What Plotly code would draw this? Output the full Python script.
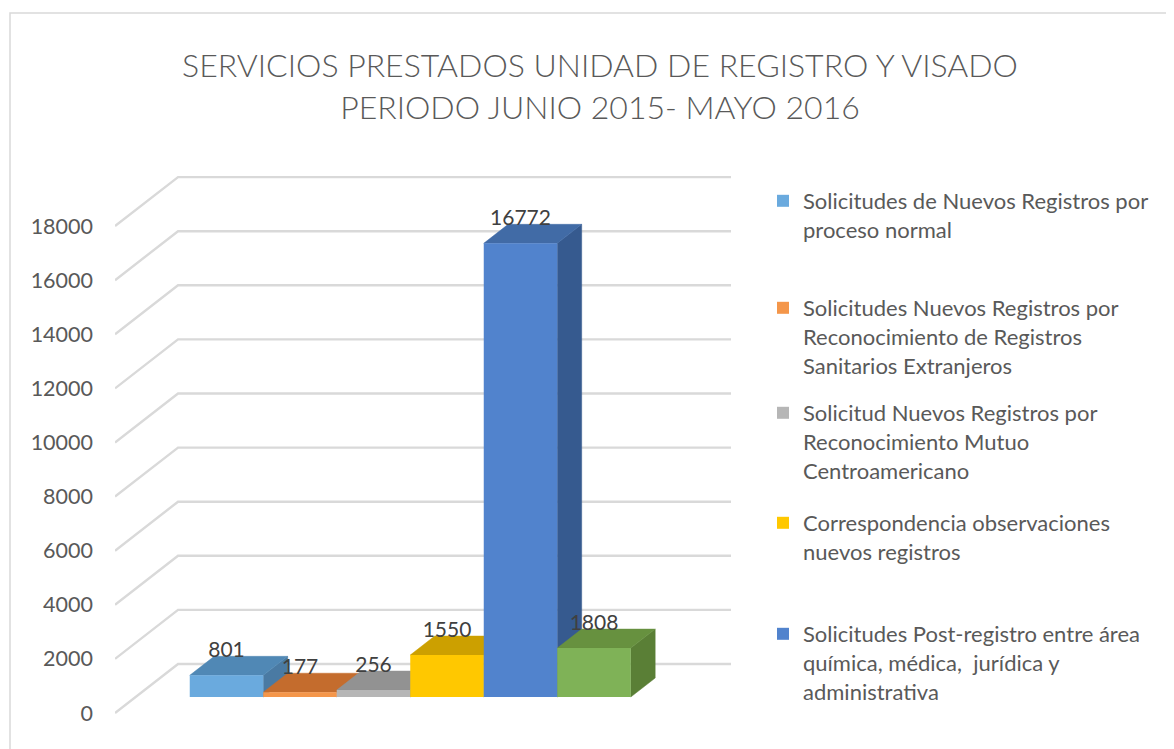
import plotly.graph_objects as go

# ---------------- data ----------------
categories = [
    "Solicitudes de Nuevos Registros por proceso normal",
    "Solicitudes Nuevos Registros por Reconocimiento de Registros Sanitarios Extranjeros",
    "Solicitud Nuevos Registros por Reconocimiento Mutuo Centroamericano",
    "Correspondencia observaciones nuevos registros",
    "Solicitudes Post-registro entre área química, médica,  jurídica y administrativa",
    "Otros servicios",
]
legend_labels = [
    "Solicitudes de Nuevos Registros por<br>proceso normal",
    "Solicitudes Nuevos Registros por<br>Reconocimiento de Registros<br>Sanitarios Extranjeros",
    "Solicitud Nuevos Registros por<br>Reconocimiento Mutuo<br>Centroamericano",
    "Correspondencia observaciones<br>nuevos registros",
    "Solicitudes Post-registro entre área<br>química, médica,  jurídica y<br>administrativa",
]
values = [801, 177, 256, 1550, 16772, 1808]
y_ticks = [0, 2000, 4000, 6000, 8000, 10000, 12000, 14000, 16000, 18000]
tick_text = [str(t) for t in y_ticks]

# ---------------- styles ----------------
front_colors = ["#6AAADE", "#F4964A", "#B6B6B6", "#FFC800", "#5183CD", "#7FB257"]
top_colors = ["#5088B5", "#C46C2D", "#929292", "#CCA000", "#416BA6", "#67913F"]
side_colors = ["#4A7AA3", "#A85C25", "#7E7E7E", "#B08A00", "#365A8F", "#5A7F36"]

FONT = "Lato"
TEXT_COLOR = "#595959"
GRID_COLOR = "#D9D9D9"

# ---------------- geometry (screen pixels) ----------------
W, H = 1174, 749
OFF = 8                                       # page body margin
FIG_W, FIG_H = W - OFF, H - OFF
PL, PR, PT, PB = 115, 735, 150, 735          # plot area (screen px)
X0_PX = 226.5                                 # centre of first category
BAR_PX = 73.5                                 # width of one category
Y0_PX = 697                                   # baseline of bar plane
PX_PER_UNIT = 0.02705                         # vertical scale
SLANT = 1.286                                 # horizontal px per vertical px of depth
BAR_DEPTH = 19                                # bar depth (px upward)
WALL_DEPTH = 33                               # bar plane -> back wall
FRONT_DEPTH = 16                              # bar plane -> front floor edge
FLOOR_LEFT_PX = 135.6                         # left floor edge at bar plane
WALL_RIGHT_PX = 731
LABEL_DROP = 6                                # data labels sit slightly low
LEGEND_LEFT_PX = 763
LEGEND_TOPS_PX = [180, 287, 392, 502, 613]    # top of each legend entry
LEGEND_FONT = 22


def to_x(px):
    return (px - X0_PX) / BAR_PX


def dx(depth):
    return depth * SLANT / BAR_PX


def dv(depth):
    return depth / PX_PER_UNIT


x_range = [to_x(PL), to_x(PR)]
y_range = [(Y0_PX - PB) / PX_PER_UNIT, (Y0_PX - PT) / PX_PER_UNIT]

fig = go.Figure()

# gridlines: oblique floor line + back wall line for every tick
xl = to_x(FLOOR_LEFT_PX)
for t in y_ticks:
    gx = [xl - dx(FRONT_DEPTH), xl + dx(WALL_DEPTH), to_x(WALL_RIGHT_PX)]
    gy = [t - dv(FRONT_DEPTH), t + dv(WALL_DEPTH), t + dv(WALL_DEPTH)]
    fig.add_trace(go.Scatter(x=gx, y=gy, mode="lines",
                             line=dict(color=GRID_COLOR, width=2.4),
                             hoverinfo="skip", showlegend=False))

# 3D side and top faces (drawn below fronts, left to right)
bdx, bdv = dx(BAR_DEPTH), dv(BAR_DEPTH)
for i, v in enumerate(values):
    xr = i + 0.5
    xlb = i - 0.5
    sx = [xr, xr, xr + bdx, xr + bdx, xr]
    sy = [0, v, v + bdv, bdv, 0]
    fig.add_trace(go.Scatter(x=sx, y=sy, fill="toself", mode="lines",
                             fillcolor=side_colors[i],
                             line=dict(color=side_colors[i], width=0.5),
                             hoverinfo="skip", showlegend=False))
    tx = [xlb, xr, xr + bdx, xlb + bdx, xlb]
    ty = [v, v, v + bdv, v + bdv, v]
    fig.add_trace(go.Scatter(x=tx, y=ty, fill="toself", mode="lines",
                             fillcolor=top_colors[i],
                             line=dict(color=top_colors[i], width=0.5),
                             hoverinfo="skip", showlegend=False))

# front faces as bars on overlaid axes, each with its own legend box
legend_layouts = {}
for i, v in enumerate(values):
    show = i < len(legend_labels)
    legend_id = "legend" if i == 0 else f"legend{i + 1}"
    fig.add_trace(go.Bar(x=[i], y=[v], width=1,
                         name=legend_labels[i] if show else categories[i],
                         marker=dict(color=front_colors[i], line=dict(width=0)),
                         xaxis="x2", yaxis="y2", showlegend=show,
                         hovertext=categories[i], hoverinfo="text+y",
                         legend=legend_id if show else "legend"))
    if show:
        legend_layouts[legend_id] = dict(
            x=(LEGEND_LEFT_PX - OFF) / FIG_W, xref="container", xanchor="left",
            y=1 - (LEGEND_TOPS_PX[i] - OFF) / FIG_H, yref="container", yanchor="top",
            valign="top", font=dict(family=FONT, size=LEGEND_FONT, color=TEXT_COLOR),
            bgcolor="rgba(0,0,0,0)")

# data labels
fig.add_trace(go.Scatter(x=list(range(len(values))),
                         y=[v + bdv - dv(LABEL_DROP) for v in values],
                         mode="text", text=[str(v) for v in values],
                         textposition="top center",
                         textfont=dict(family=FONT, size=21, color="#404040"),
                         xaxis="x2", yaxis="y2", hoverinfo="skip", showlegend=False))


# chart border
def paper_x(px):
    return (px - PL) / (PR - PL)


def paper_y(py):
    return (PB - py) / (PB - PT)


fig.add_shape(type="rect", xref="paper", yref="paper",
              x0=paper_x(10), x1=paper_x(1200), y0=paper_y(790), y1=paper_y(13),
              line=dict(color=GRID_COLOR, width=1.5), layer="below")

fig.update_layout(
    width=FIG_W, height=FIG_H,
    margin=dict(l=PL - OFF, r=W - PR, t=PT - OFF, b=H - PB),
    paper_bgcolor="white", plot_bgcolor="white",
    barmode="overlay",
    font=dict(family=FONT, color=TEXT_COLOR),
    title=dict(text="SERVICIOS PRESTADOS UNIDAD DE REGISTRO Y VISADO<br>PERIODO JUNIO 2015- MAYO 2016",
               x=(600 - OFF) / FIG_W, xanchor="center",
               y=1 - (77 - OFF) / FIG_H, yanchor="middle",
               font=dict(family=FONT, size=32, color=TEXT_COLOR, weight=300)),
    xaxis=dict(range=x_range, visible=False, fixedrange=True),
    yaxis=dict(range=y_range, showgrid=False, zeroline=False, showline=False,
               tickmode="array", tickvals=[t - dv(FRONT_DEPTH) for t in y_ticks],
               ticktext=tick_text, ticks="", ticklabelstandoff=21,
               tickfont=dict(family=FONT, size=21.5, color=TEXT_COLOR), fixedrange=True),
    xaxis2=dict(range=x_range, overlaying="x", visible=False, fixedrange=True),
    yaxis2=dict(range=y_range, overlaying="y", visible=False, fixedrange=True),
    showlegend=True,
    **legend_layouts,
)

fig.write_html("out.html")
